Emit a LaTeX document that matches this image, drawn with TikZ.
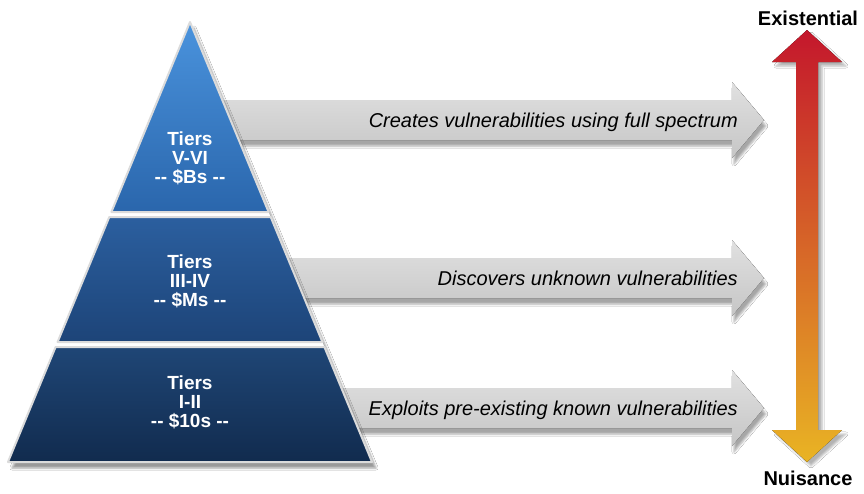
\documentclass[tikz,border=0pt]{standalone}
\usepackage{fontspec}
\setmainfont{Liberation Sans}
\usetikzlibrary{shadows.blur}
\definecolor{tierAtop}{HTML}{4A93DD}
\definecolor{tierAbot}{HTML}{2A66AC}
\definecolor{tierBtop}{HTML}{2B5F9F}
\definecolor{tierBbot}{HTML}{1D4478}
\definecolor{tierCtop}{HTML}{1F4676}
\definecolor{tierCbot}{HTML}{112B4E}
\definecolor{existred}{HTML}{C4172C}
\definecolor{midorange}{HTML}{DD5A22}
\definecolor{nuisgold}{HTML}{E9B424}
\tikzset{
  tier/.style={draw=gray!28,line width=2pt,line join=round},
  tiertext/.style={text=white,align=center,font=\fontsize{19}{19}\selectfont\bfseries},
  grayarrow/.style={top color=gray!24,middle color=gray!13,bottom color=gray!45,
    blur shadow={shadow xshift=2pt,shadow yshift=-6pt,shadow opacity=35}},
  arrowtext/.style={anchor=base east,inner sep=0pt,font=\fontsize{20}{24}\selectfont\itshape},
  scalelabel/.style={anchor=base,inner sep=0pt,font=\fontsize{20}{24}\selectfont\bfseries}
}
\begin{document}
\begin{tikzpicture}[x=1pt,y=-1pt]
\useasboundingbox (0,0) rectangle (864,493);
\fill[white] (0,0) rectangle (864,493);
\foreach \y/\txt/\n in {120/Creates vulnerabilities using full spectrum/spectrum,
                        278/Discovers unknown vulnerabilities/unknown,
                        408/Exploits pre-existing known vulnerabilities/known}{
  \fill[grayarrow] (200,\y-20) -- (732,\y-20) -- (732,\y-38) -- (764,\y)
    -- (732,\y+38) -- (732,\y+20) -- (200,\y+20) -- cycle;
  \node[arrowtext] (\n) at (738,\y+7) {\txt};
}
\path[fill=white,blur shadow={shadow xshift=4pt,shadow yshift=-6pt,shadow opacity=40}]
  (190,22) -- (372,462) -- (8,462) -- cycle;
\draw[tier,top color=tierAtop,bottom color=tierAbot] (190,22) -- (268.6,212) -- (111.4,212) -- cycle;
\draw[tier,top color=tierBtop,bottom color=tierBbot] (109.3,217) -- (270.7,217) -- (322.4,342) -- (57.6,342) -- cycle;
\draw[tier,top color=tierCtop,bottom color=tierCbot] (55.6,347) -- (324.4,347) -- (372,462) -- (8,462) -- cycle;
\node[tiertext] (top) at (190,158) {Tiers\\V-VI\\-{}- \$Bs -{}-};
\node[tiertext] (mid) at (190,281) {Tiers\\III-IV\\-{}- \$Ms -{}-};
\node[tiertext] (low) at (190,402) {Tiers\\I-II\\-{}- \$10s -{}-};
\fill[top color=existred,middle color=midorange,bottom color=nuisgold,
  blur shadow={shadow xshift=4pt,shadow yshift=-4pt,shadow opacity=30}]
  (807,30) -- (842,62) -- (818,62) -- (818,430) -- (842,430) -- (807,462)
  -- (772,430) -- (796,430) -- (796,62) -- (772,62) -- cycle;
\node[scalelabel] (exist) at (808,25) {Existential};
\node[scalelabel] (nuis) at (808,485) {Nuisance};
\end{tikzpicture}
\end{document}
